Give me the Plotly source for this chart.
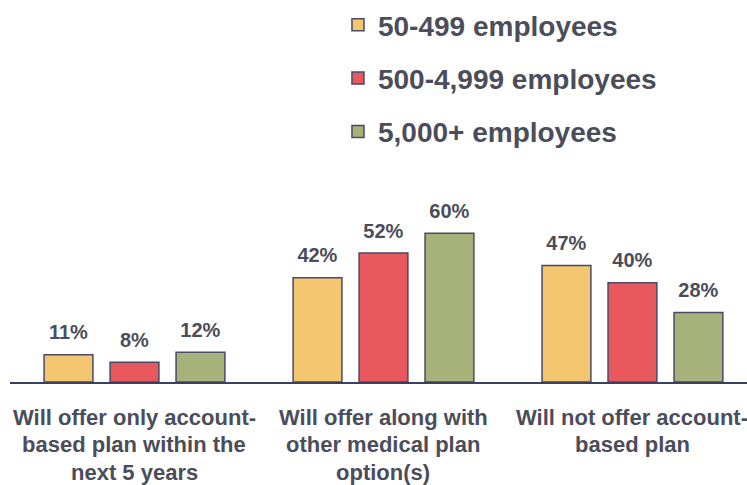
import plotly.graph_objects as go

categories = [["Will offer only account-", "based plan within the", "next 5 years"],
              ["Will offer along with", "other medical plan", "option(s)"],
              ["Will not offer account-", "based plan"]]
series_names = ["50-499 employees", "500-4,999 employees", "5,000+ employees"]
small = [11, 42, 47]
mid = [8, 52, 40]
large = [12, 60, 28]
colors = ["#f3c66f", "#e8585d", "#a6b27a"]

TXT = "#4b4d5a"
FONT = "Liberation Sans"
fig = go.Figure()
for i, (name, vals) in enumerate(zip(series_names, [small, mid, large])):
    fig.add_trace(go.Bar(
        x=[0, 1, 2], y=vals, name=name, legendgroup=name,
        marker=dict(color=colors[i], line=dict(color="#4a4a68", width=1.5)),
        text=[f"{v}%" for v in vals], textposition="outside",
        texttemplate="<span style='font-size:20px'>%{text}</span><br> ",
        textfont=dict(family=FONT, size=8, color=TXT, weight="bold"),
        cliponaxis=False,
    ))

for c, lines in enumerate(categories):
    for j, line in enumerate(lines):
        fig.add_annotation(x=c, y=0, xref="x", yref="y", text=f"<b>{line}</b>",
                           showarrow=False, yanchor="middle", yshift=-35 - 27.5 * j,
                           font=dict(family=FONT, size=22, color=TXT))

fig.update_layout(
    width=747, height=485,
    margin=dict(l=10, r=0, t=160, b=103),
    paper_bgcolor="white", plot_bgcolor="white",
    barmode="group", bargap=0.205, bargroupgap=0.26,
    font=dict(family=FONT, color=TXT),
    showlegend=True,
    legend=dict(x=0.445, y=1.018, xref="paper", yref="container", xanchor="left", yanchor="top",
                font=dict(size=28, family=FONT, color=TXT, weight="bold"),
                tracegroupgap=14, bgcolor="rgba(0,0,0,0)"),
    xaxis=dict(range=[-0.5, 2.46], tickmode="array", tickvals=[0, 1, 2], showticklabels=False,
               showgrid=False, zeroline=False, showline=True, linecolor="#3c4060", linewidth=2,
               ticks=""),
    yaxis=dict(range=[0, 89.5], visible=False, showgrid=False, zeroline=False),
)
fig.write_html("out.html")
